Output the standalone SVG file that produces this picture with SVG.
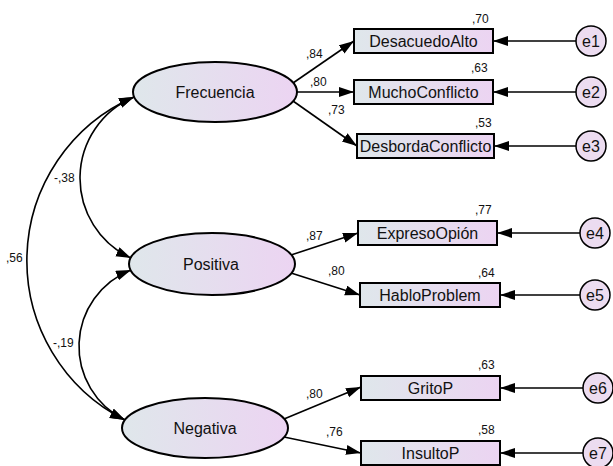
<svg xmlns="http://www.w3.org/2000/svg" width="613" height="466" viewBox="0 0 613 466">
<style>
.lat{stroke:#000;stroke-width:2;fill:url(#g)}
.box{stroke:#000;stroke-width:2;fill:url(#g)}
.err{stroke:#000;stroke-width:1.5;fill:#ecdcf0}
.t{font-family:"Liberation Sans",Arial,sans-serif;font-size:16px;fill:#111;text-anchor:middle}
.n{font-family:"Liberation Sans",Arial,sans-serif;font-size:12px;fill:#111}
.c path,.c line{stroke:#000;stroke-width:1.6;fill:none}
</style>
<defs>
<linearGradient id="g" x1="0" y1="0" x2="1" y2="0">
<stop offset="0" stop-color="#dfe7eb"/>
<stop offset="1" stop-color="#ecd4f2"/>
</linearGradient>
<marker id="a" markerUnits="userSpaceOnUse" markerWidth="16" markerHeight="12" refX="15" refY="5" orient="auto-start-reverse">
<path d="M0,0 L15,5 L0,10 z" fill="#000"/>
</marker>
</defs>
<g class="c" id="connectors">
<path d="M134,97 A88 88 0 0 0 131,258" marker-start="url(#a)" marker-end="url(#a)"/>
<path d="M134,97 A178.5 178.5 0 0 0 125,420" marker-start="url(#a)" marker-end="url(#a)"/>
<path d="M131,270 A82 82 0 0 0 125,420" marker-start="url(#a)" marker-end="url(#a)"/>
<line x1="293" y1="83" x2="354" y2="41" marker-end="url(#a)"/>
<line x1="297" y1="92" x2="354" y2="92" marker-end="url(#a)"/>
<line x1="293" y1="101" x2="357" y2="146" marker-end="url(#a)"/>
<line x1="291" y1="255" x2="358" y2="233" marker-end="url(#a)"/>
<line x1="291" y1="273" x2="360" y2="295" marker-end="url(#a)"/>
<line x1="284" y1="419" x2="361" y2="387" marker-end="url(#a)"/>
<line x1="284" y1="437" x2="361" y2="453" marker-end="url(#a)"/>
<line x1="576" y1="41" x2="493" y2="41" marker-end="url(#a)"/>
<line x1="576" y1="92" x2="493" y2="92" marker-end="url(#a)"/>
<line x1="576" y1="146" x2="494" y2="146" marker-end="url(#a)"/>
<line x1="580" y1="233" x2="497" y2="233" marker-end="url(#a)"/>
<line x1="580" y1="295" x2="500" y2="295" marker-end="url(#a)"/>
<line x1="583" y1="388" x2="500" y2="388" marker-end="url(#a)"/>
<line x1="583" y1="453" x2="500" y2="453" marker-end="url(#a)"/>
</g>
<g id="Frecuencia"><ellipse class="lat" cx="215" cy="92" rx="82" ry="30"/><text class="t" x="215" y="98">Frecuencia</text></g>
<g id="Positiva"><ellipse class="lat" cx="212" cy="264" rx="83" ry="31"/><text class="t" x="211" y="270">Positiva</text></g>
<g id="Negativa"><ellipse class="lat" cx="205" cy="428" rx="83" ry="30"/><text class="t" x="205" y="434">Negativa</text></g>
<g id="DesacuedoAlto"><rect class="box" x="354" y="29" width="139" height="24"/><text class="t" x="423.5" y="46.5">DesacuedoAlto</text></g>
<g id="MuchoConflicto"><rect class="box" x="354" y="80" width="139" height="24"/><text class="t" x="423.5" y="97.5">MuchoConflicto</text></g>
<g id="DesbordaConflicto"><rect class="box" x="357" y="134" width="137" height="24"/><text class="t" x="425.5" y="151.5">DesbordaConflicto</text></g>
<g id="ExpresoOpion"><rect class="box" x="358" y="221" width="139" height="24"/><text class="t" x="427.5" y="238.5">ExpresoOpión</text></g>
<g id="HabloProblem"><rect class="box" x="360" y="283" width="140" height="24"/><text class="t" x="430" y="300.5">HabloProblem</text></g>
<g id="GritoP"><rect class="box" x="361" y="376" width="139" height="24"/><text class="t" x="430.5" y="393.5">GritoP</text></g>
<g id="InsultoP"><rect class="box" x="361" y="441" width="139" height="24"/><text class="t" x="430.5" y="458.5">InsultoP</text></g>
<g id="e1"><circle class="err" cx="591" cy="41" r="15"/><text class="t" x="591" y="47">e1</text></g>
<g id="e2"><circle class="err" cx="591" cy="92" r="15"/><text class="t" x="591" y="98">e2</text></g>
<g id="e3"><circle class="err" cx="591" cy="146" r="15"/><text class="t" x="591" y="152">e3</text></g>
<g id="e4"><circle class="err" cx="595" cy="233" r="15"/><text class="t" x="595" y="239">e4</text></g>
<g id="e5"><circle class="err" cx="595" cy="295" r="15"/><text class="t" x="595" y="301">e5</text></g>
<g id="e6"><circle class="err" cx="598" cy="388" r="15"/><text class="t" x="598" y="394">e6</text></g>
<g id="e7"><circle class="err" cx="598" cy="453" r="15"/><text class="t" x="598" y="459">e7</text></g>
<g id="labels">
<text class="n" x="472" y="23">,70</text>
<text class="n" x="471" y="72">,63</text>
<text class="n" x="475" y="127">,53</text>
<text class="n" x="306" y="58">,84</text>
<text class="n" x="310" y="86">,80</text>
<text class="n" x="328" y="114">,73</text>
<text class="n" x="475" y="214">,77</text>
<text class="n" x="306" y="240">,87</text>
<text class="n" x="328" y="275">,80</text>
<text class="n" x="478" y="277">,64</text>
<text class="n" x="478" y="369">,63</text>
<text class="n" x="306" y="398">,80</text>
<text class="n" x="326" y="436">,76</text>
<text class="n" x="478" y="434">,58</text>
<text class="n" x="54" y="182">-,38</text>
<text class="n" x="6" y="262">,56</text>
<text class="n" x="53" y="347">-,19</text>
</g>
</svg>
